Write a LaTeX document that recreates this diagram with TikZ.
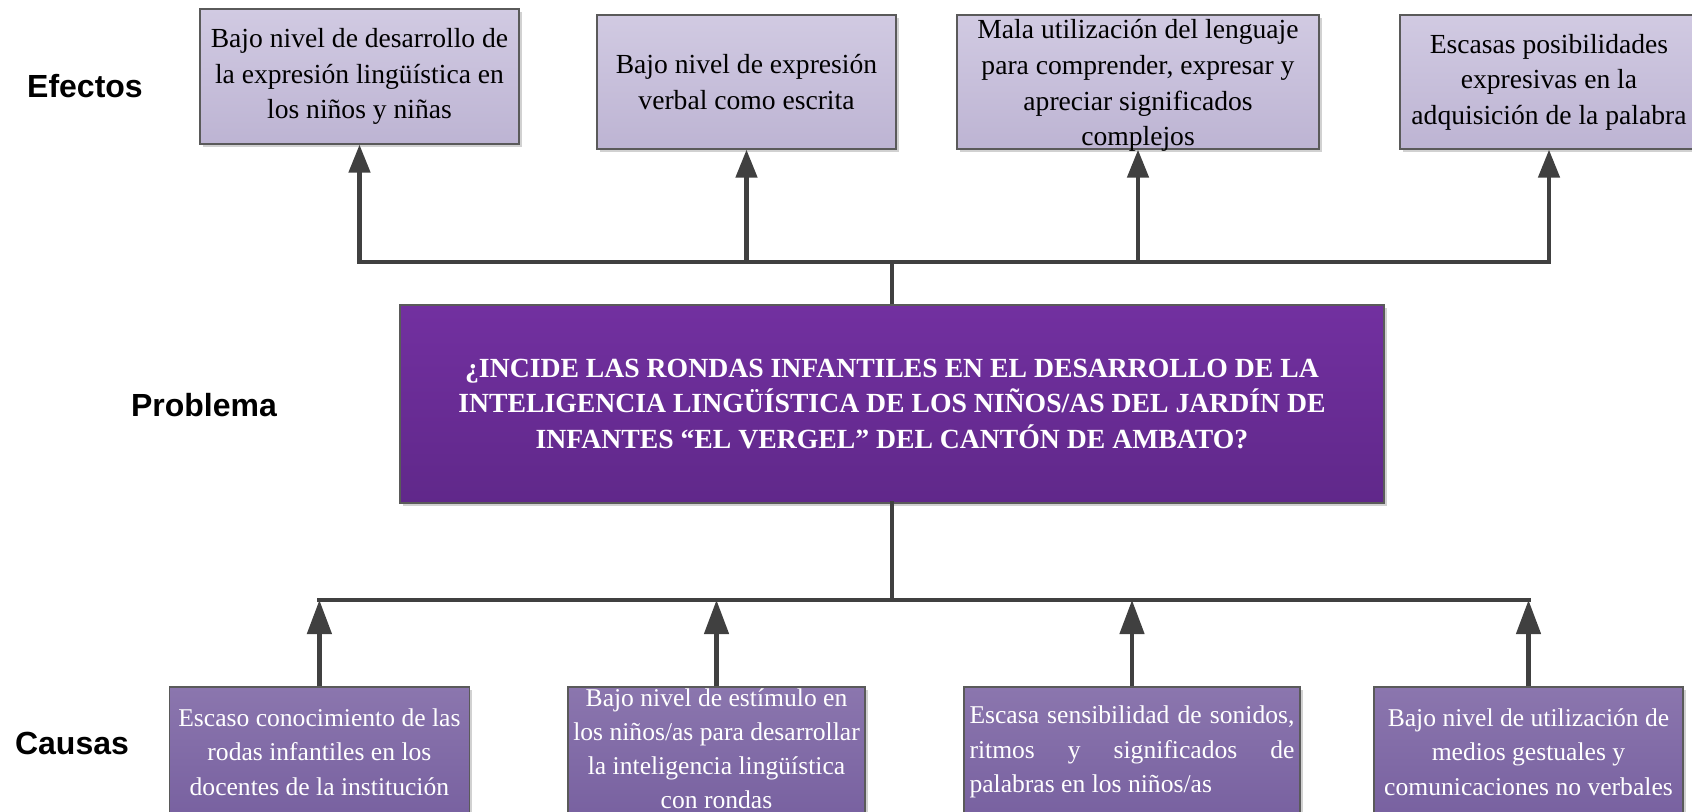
\documentclass[tikz,border=0pt]{standalone}
\usepackage{fontspec}
\setmainfont{Liberation Serif}
\newfontfamily\labelfont{Liberation Sans}
\usetikzlibrary{arrows.meta,shadows}
\definecolor{linegray}{HTML}{404040}
\definecolor{boxborder}{HTML}{5A5A5A}
\definecolor{effTop}{RGB}{209,202,226}
\definecolor{effBot}{RGB}{189,180,211}
\definecolor{probTop}{RGB}{114,48,160}
\definecolor{probBot}{RGB}{96,40,138}
\definecolor{causeTop}{RGB}{139,118,174}
\definecolor{causeBot}{RGB}{120,97,160}
\tikzset{
  ebox/.style={draw=boxborder, line width=0.6pt, top color=effTop, bottom color=effBot,
    inner sep=0pt, align=center, font=\fontsize{13.8}{17.8}\selectfont,
    drop shadow={shadow xshift=1.5pt, shadow yshift=-1.5pt, fill=black, opacity=0.18}},
  etext/.style={inner sep=0pt, align=center, font=\fontsize{13.8}{17.8}\selectfont},
  pbox/.style={draw=boxborder, line width=0.6pt, top color=probTop, bottom color=probBot,
    inner sep=0pt, align=center, text=white, font=\fontsize{13.85}{17.8}\selectfont\bfseries,
    drop shadow={shadow xshift=1.5pt, shadow yshift=-1.5pt, fill=black, opacity=0.18}},
  cbox/.style={draw=boxborder, line width=0.6pt, top color=causeTop, bottom color=causeBot,
    inner sep=0pt, align=center, text=white, font=\fontsize{12.8}{17.3}\selectfont,
    drop shadow={shadow xshift=1.5pt, shadow yshift=-1.5pt, fill=black, opacity=0.18}},
  ctext/.style={inner sep=0pt, align=center, text=white, font=\fontsize{12.8}{17}\selectfont},
  rowlabel/.style={font=\labelfont\fontsize{16}{19}\selectfont\bfseries, inner sep=0pt},
  conn/.style={draw=linegray, line width=2.3pt},
  bus/.style={conn, line cap=rect},
  uparrowE/.style={conn, -{Triangle[length=14pt,width=10.5pt]}},
  uparrowC/.style={conn, -{Triangle[length=17pt,width=12pt]}},
}
\begin{document}
\begin{tikzpicture}[x=0.5pt,y=-0.5pt]
\useasboundingbox (0,0) rectangle (1692,811);

% row labels
\node[rowlabel] (lef) at (85,86) {Efectos};
\node[rowlabel] (lpr) at (204,405) {Problema};
\node[rowlabel] (lca) at (72,743) {Causas};

% effects
\node[ebox, minimum width=159.5pt, minimum height=67.5pt] (e1) at (359.5,76.5)
  {Bajo nivel de desarrollo de\\la expresión lingüística en\\los niños y niñas};
\node[ebox, minimum width=149.5pt, minimum height=67pt] (e2) at (746.5,82)
  {Bajo nivel de expresión\\verbal como escrita};
\node[ebox, minimum width=181pt, minimum height=67pt] (e3) at (1138,82) {};
\node[etext] (e3t) at ([yshift=-1.8pt]e3.center)
  {Mala utilización del lenguaje\\para comprender, expresar y\\apreciar significados\\complejos};
\node[ebox, minimum width=149pt, minimum height=67pt] (e4) at (1549,82)
  {Escasas posibilidades\\expresivas en la\\adquisición de la palabra};

% problem
\node[pbox, minimum width=492pt, minimum height=99pt] (p) at (892,404)
  {¿INCIDE LAS RONDAS INFANTILES EN EL DESARROLLO DE LA\\
   INTELIGENCIA LINGÜÍSTICA DE LOS NIÑOS/AS DEL JARDÍN DE\\
   INFANTES “EL VERGEL” DEL CANTÓN DE AMBATO?};

% causes
\node[cbox, minimum width=150pt, minimum height=65pt] (c1) at (319.4,752)
  {Escaso conocimiento de las\\rodas infantiles en los\\docentes de la institución};
\node[cbox, minimum width=148.5pt, minimum height=65pt] (c2) at (716.5,752) {};
\node[ctext] (c2t) at ([yshift=1.8pt]c2.center)
  {Bajo nivel de estímulo en\\los niños/as para desarrollar\\la inteligencia lingüística\\con rondas};
\node[cbox, minimum width=168pt, minimum height=65pt, align=left] (c3) at (1132,752)
  {\hbox to 162.5pt{Escasa\hfill sensibilidad\hfill de\hfill sonidos,}\\
   \hbox to 162.5pt{ritmos\hfill y\hfill significados\hfill de}\\
   \hbox to 162.5pt{palabras en los niños/as\hfill}};
\node[cbox, minimum width=154.5pt, minimum height=65pt] (c4) at (1528.5,752)
  {Bajo nivel de utilización de\\medios gestuales y\\comunicaciones no verbales};

% top connectors
\coordinate (tb) at (891,262);
\draw[conn] (p.north) -- (p.north |- tb);
\draw[bus] (e1.south |- tb) -- (e4.south |- tb);
\foreach \e in {e1,e2,e3,e4}
  \draw[uparrowE] (\e.south |- tb) -- (\e.south);

% bottom connectors
\coordinate (bb) at (891,600);
\draw[bus] (p.south) -- (p.south |- bb);
\draw[bus] (c1.north |- bb) -- (c4.north |- bb);
\foreach \c in {c1,c2,c3,c4}
  \draw[uparrowC] (\c.north) -- (\c.north |- bb);
\end{tikzpicture}
\end{document}
